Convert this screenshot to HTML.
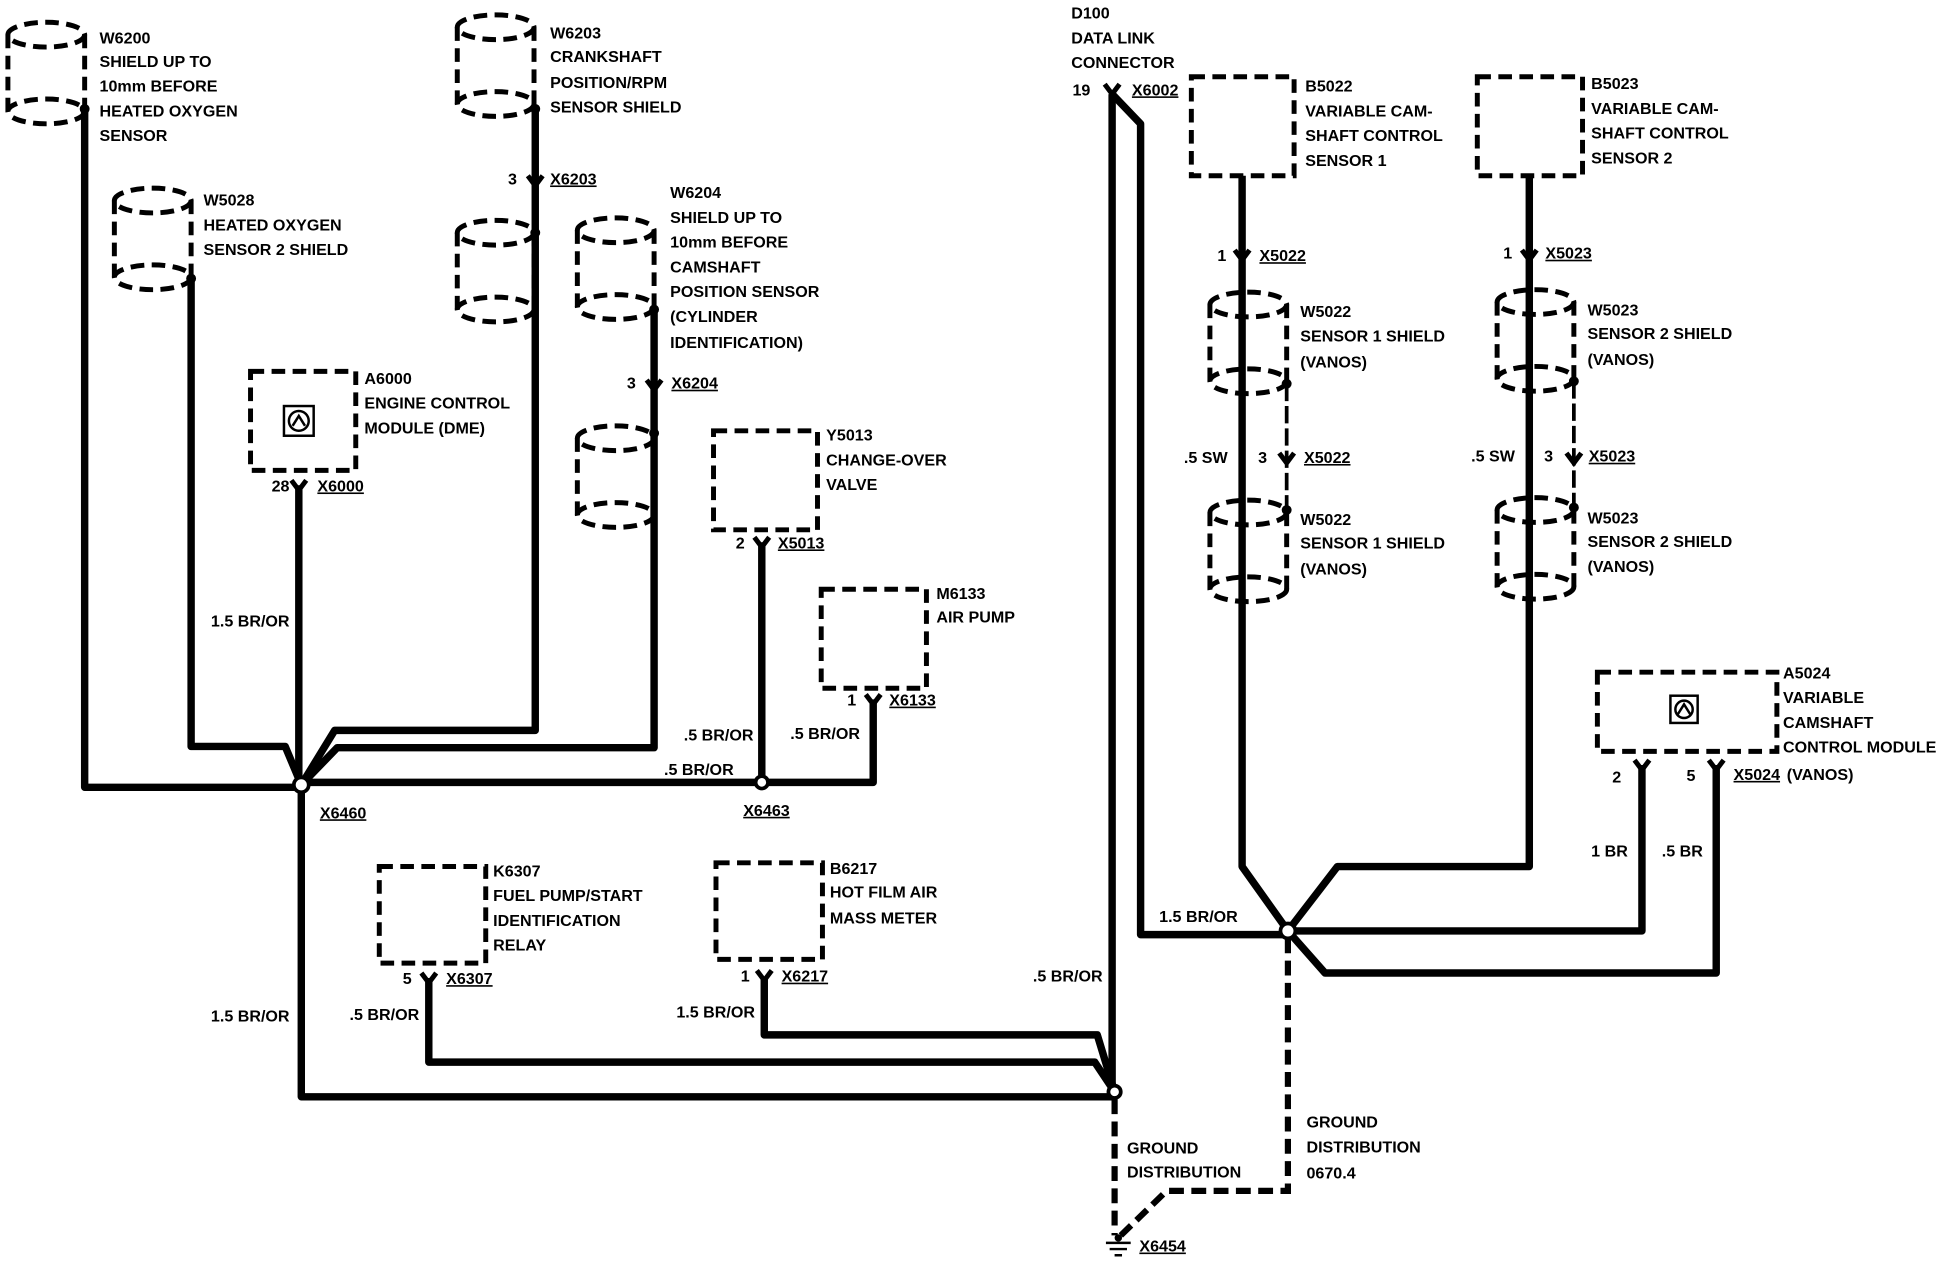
<!DOCTYPE html>
<html><head><meta charset="utf-8"><style>
html,body{margin:0;padding:0;background:#fff;}
svg{display:block;}
text{font-family:"Liberation Sans",sans-serif;font-size:13px;font-weight:bold;fill:#000;}
.w{stroke:#000;stroke-width:6;fill:none;stroke-linejoin:round;}
.d{stroke:#000;stroke-width:4;fill:none;stroke-dasharray:11 6;}
.g{stroke:#000;stroke-width:5;fill:none;stroke-dasharray:12 6;}
.t{stroke:#000;stroke-width:3;fill:none;stroke-dasharray:14 4;}
.u{text-decoration:underline;}
</style></head><body>
<svg width="1942" height="1280" viewBox="0 0 1568 1034" xmlns="http://www.w3.org/2000/svg">
<defs>
<g id="cyl">
<ellipse cx="0" cy="0" rx="31" ry="10" class="d"/>
<path d="M-31 0 V62 M31 0 V62" class="d"/>
<ellipse cx="0" cy="62" rx="31" ry="10" class="d"/>
</g>
<g id="arr"><path d="M-6 -6 L0 2 L6 -6" stroke="#000" stroke-width="4" fill="none"/></g>
</defs>

<use href="#cyl" x="37" y="28"/>
<use href="#cyl" x="123" y="162"/>
<use href="#cyl" x="400" y="22"/>
<use href="#cyl" x="400" y="188"/>
<use href="#cyl" x="497" y="186"/>
<use href="#cyl" x="497" y="354"/>

<rect x="202" y="300" width="85" height="80" class="d"/>
<rect x="576" y="348" width="84" height="80" class="d"/>
<rect x="663" y="476" width="85" height="80" class="d"/>
<rect x="306" y="700" width="86" height="78" class="d"/>
<rect x="578" y="697" width="86" height="78" class="d"/>
<rect x="229" y="328" width="24" height="24" stroke="#000" stroke-width="2" fill="none"/>
<circle cx="241" cy="340" r="8" stroke="#000" stroke-width="2" fill="none"/>
<path d="M236 344 L241 336 L246 344" stroke="#000" stroke-width="2" fill="none"/>

<path class="w" d="M68 88 V636 H243"/>
<path class="w" d="M154 225 V603 H230 L243 634"/>
<path class="w" d="M241 392 V634"/>
<path class="w" d="M432 88 V590 H270 L243 634"/>
<path class="w" d="M528 250 V604 H272 L243 634"/>
<path class="w" d="M243 632 H705 V565"/>
<path class="w" d="M615 438 V632"/>
<path class="w" d="M243 634 V886 H900"/>
<path class="w" d="M346 790 V858 H884 L900 882"/>
<path class="w" d="M617 790 V836 H886 L900 882"/>
<circle cx="68" cy="88" r="4" fill="#000"/>
<circle cx="154" cy="225" r="4" fill="#000"/>
<circle cx="432" cy="88" r="4" fill="#000"/>
<circle cx="432" cy="188" r="4" fill="#000"/>
<circle cx="528" cy="250" r="4" fill="#000"/>
<circle cx="528" cy="350" r="4" fill="#000"/>
<circle cx="243" cy="634" r="6" fill="#fff" stroke="#000" stroke-width="3"/>
<circle cx="615" cy="632" r="5" fill="#fff" stroke="#000" stroke-width="3"/>
<use href="#arr" x="432" y="148"/>
<use href="#arr" x="528" y="313"/>
<use href="#arr" x="241" y="394"/>
<use href="#arr" x="615" y="440"/>
<use href="#arr" x="705" y="567"/>
<use href="#arr" x="346" y="792"/>
<use href="#arr" x="617" y="790"/>

<path class="w" d="M898 76 V882"/>
<path class="w" d="M898 76 L921 100 V755 H1040"/>
<use href="#arr" x="898" y="74"/>
<circle cx="900" cy="882" r="5" fill="#fff" stroke="#000" stroke-width="3"/>

<rect x="962" y="62" width="83" height="80" class="d"/>
<rect x="1193" y="62" width="85" height="80" class="d"/>
<rect x="1290" y="543" width="145" height="64" class="d"/>
<rect x="1349" y="562" width="22" height="22" stroke="#000" stroke-width="2" fill="none"/>
<circle cx="1360" cy="573" r="7" stroke="#000" stroke-width="2" fill="none"/>
<path d="M1355 577 L1360 569 L1365 577" stroke="#000" stroke-width="2" fill="none"/>
<use href="#cyl" x="1008" y="246"/>
<use href="#cyl" x="1008" y="414"/>
<use href="#cyl" x="1240" y="244"/>
<use href="#cyl" x="1240" y="412"/>

<path class="t" d="M1039 310 V412"/>
<path class="t" d="M1271 308 V410"/>
<circle cx="1039" cy="310" r="4" fill="#000"/>
<circle cx="1039" cy="412" r="4" fill="#000"/>
<circle cx="1271" cy="308" r="4" fill="#000"/>
<circle cx="1271" cy="410" r="4" fill="#000"/>

<path class="w" d="M1003 142 V700 L1040 752"/>
<path class="w" d="M1235 142 V700 H1080 L1040 752"/>
<path class="w" d="M1326 618 V752 H1040"/>
<path class="w" d="M1386 618 V786 H1070 L1040 752"/>
<use href="#arr" x="1003" y="208"/>
<use href="#arr" x="1039" y="372"/>
<use href="#arr" x="1235" y="208"/>
<use href="#arr" x="1271" y="372"/>
<use href="#arr" x="1326" y="620"/>
<use href="#arr" x="1386" y="620"/>
<circle cx="1040" cy="752" r="6" fill="#fff" stroke="#000" stroke-width="3"/>

<path class="g" d="M1040 758 V962 H942 L905 998"/>
<path class="g" d="M900 888 V998"/>
<path d="M893 1004 H913 M896 1009 H910 M900 1014 H906" stroke="#000" stroke-width="2"/>
<circle cx="903" cy="1000" r="3" fill="#000"/>

<text x="80" y="35">W6200</text><text x="80" y="54">SHIELD UP TO</text><text x="80" y="74">10mm BEFORE</text><text x="80" y="94">HEATED OXYGEN</text><text x="80" y="114">SENSOR</text>
<text x="164" y="166">W5028</text><text x="164" y="186">HEATED OXYGEN</text><text x="164" y="206">SENSOR 2 SHIELD</text>
<text x="444" y="31">W6203</text><text x="444" y="50">CRANKSHAFT</text><text x="444" y="71">POSITION/RPM</text><text x="444" y="91">SENSOR SHIELD</text>
<text x="410" y="149">3</text><text x="444" y="149" class="u">X6203</text>
<text x="541" y="160">W6204</text><text x="541" y="180">SHIELD UP TO</text><text x="541" y="200">10mm BEFORE</text><text x="541" y="220">CAMSHAFT</text><text x="541" y="240">POSITION SENSOR</text><text x="541" y="260">(CYLINDER</text><text x="541" y="281">IDENTIFICATION)</text>
<text x="506" y="314">3</text><text x="542" y="314" class="u">X6204</text>
<text x="294" y="310">A6000</text><text x="294" y="330">ENGINE CONTROL</text><text x="294" y="350">MODULE (DME)</text>
<text x="219" y="397">28</text><text x="256" y="397" class="u">X6000</text>
<text x="667" y="356">Y5013</text><text x="667" y="376">CHANGE-OVER</text><text x="667" y="396">VALVE</text>
<text x="594" y="443">2</text><text x="628" y="443" class="u">X5013</text>
<text x="756" y="484">M6133</text><text x="756" y="503">AIR PUMP</text>
<text x="684" y="570">1</text><text x="718" y="570" class="u">X6133</text>
<text x="170" y="506">1.5 BR/OR</text>
<text x="552" y="598">.5 BR/OR</text><text x="638" y="597">.5 BR/OR</text><text x="536" y="626">.5 BR/OR</text>
<text x="258" y="661" class="u">X6460</text><text x="600" y="659" class="u">X6463</text>
<text x="398" y="708">K6307</text><text x="398" y="728">FUEL PUMP/START</text><text x="398" y="748">IDENTIFICATION</text><text x="398" y="768">RELAY</text>
<text x="325" y="795">5</text><text x="360" y="795" class="u">X6307</text>
<text x="670" y="706">B6217</text><text x="670" y="725">HOT FILM AIR</text><text x="670" y="746">MASS METER</text>
<text x="598" y="793">1</text><text x="631" y="793" class="u">X6217</text>
<text x="170" y="825">1.5 BR/OR</text><text x="282" y="824">.5 BR/OR</text><text x="546" y="822">1.5 BR/OR</text><text x="834" y="793">.5 BR/OR</text>
<text x="865" y="15">D100</text><text x="865" y="35">DATA LINK</text><text x="865" y="55">CONNECTOR</text>
<text x="866" y="77">19</text><text x="914" y="77" class="u">X6002</text>
<text x="1054" y="74">B5022</text><text x="1054" y="94">VARIABLE CAM-</text><text x="1054" y="114">SHAFT CONTROL</text><text x="1054" y="134">SENSOR 1</text>
<text x="1285" y="72">B5023</text><text x="1285" y="92">VARIABLE CAM-</text><text x="1285" y="112">SHAFT CONTROL</text><text x="1285" y="132">SENSOR 2</text>
<text x="983" y="211">1</text><text x="1017" y="211" class="u">X5022</text>
<text x="1214" y="209">1</text><text x="1248" y="209" class="u">X5023</text>
<text x="1050" y="256">W5022</text><text x="1050" y="276">SENSOR 1 SHIELD</text><text x="1050" y="297">(VANOS)</text>
<text x="1282" y="255">W5023</text><text x="1282" y="274">SENSOR 2 SHIELD</text><text x="1282" y="295">(VANOS)</text>
<text x="956" y="374">.5 SW</text><text x="1016" y="374">3</text><text x="1053" y="374" class="u">X5022</text>
<text x="1188" y="373">.5 SW</text><text x="1247" y="373">3</text><text x="1283" y="373" class="u">X5023</text>
<text x="1050" y="424">W5022</text><text x="1050" y="443">SENSOR 1 SHIELD</text><text x="1050" y="464">(VANOS)</text>
<text x="1282" y="423">W5023</text><text x="1282" y="442">SENSOR 2 SHIELD</text><text x="1282" y="462">(VANOS)</text>
<text x="1440" y="548">A5024</text><text x="1440" y="568">VARIABLE</text><text x="1440" y="588">CAMSHAFT</text><text x="1440" y="608">CONTROL MODULE</text>
<text x="1302" y="632">2</text><text x="1362" y="631">5</text><text x="1400" y="630" class="u">X5024</text><text x="1443" y="630">(VANOS)</text>
<text x="1285" y="692">1 BR</text><text x="1342" y="692">.5 BR</text>
<text x="936" y="745">1.5 BR/OR</text>
<text x="910" y="932">GROUND</text><text x="910" y="951">DISTRIBUTION</text>
<text x="1055" y="911">GROUND</text><text x="1055" y="931">DISTRIBUTION</text><text x="1055" y="952">0670.4</text>
<text x="920" y="1011" class="u">X6454</text>
</svg>
</body></html>
